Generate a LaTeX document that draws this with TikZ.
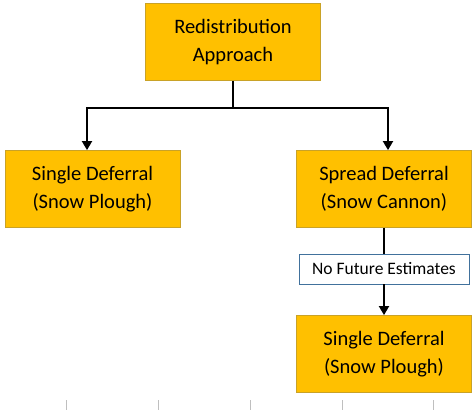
\documentclass[tikz,border=0pt]{standalone}
\usepackage{fontspec}
\setmainfont{Carlito}
\usetikzlibrary{positioning, arrows.meta}
\definecolor{boxfill}{HTML}{FFC000}
\definecolor{boxline}{HTML}{C9A227}
\definecolor{noteline}{HTML}{41719C}

\begin{document}
\begin{tikzpicture}
    [
        x=1pt, y=1pt, on grid,
        orange_box/.style={rectangle, draw=boxline, fill=boxfill, line width=0.8pt, minimum width=175pt, minimum height=77pt, align=center, font=\fontsize{20.5}{27.5}\selectfont},
        note_box/.style={rectangle, draw=noteline, fill=white, line width=0.9pt, minimum width=170pt, minimum height=30pt, font=\fontsize{17.5}{20}\selectfont},
        link/.style={line width=1.8pt, color=black},
    ]
        \useasboundingbox (0,0) rectangle (472,-410);
        \node[orange_box] (approach) at (233,-42) {Redistribution\\Approach} ;
        \node[orange_box] (single) [below left = 147pt and 140.5pt of approach] {Single Deferral\\(Snow Plough)} ;
        \node[orange_box] (spread) [below right = 147pt and 151pt of approach] {Spread Deferral\\(Snow Cannon)} ;
        \node[note_box] (nofuture) [below = 80pt of spread] {No Future Estimates} ;
        \node[orange_box] (single2) [below = 165pt of spread] {Single Deferral\\(Snow Plough)} ;
        \coordinate (split) at ([yshift=-27pt]approach.south) ;
        \draw[link] (approach.south) -- (split) ;
        \draw[link, -{Triangle[width=10pt, length=9pt]}] (split) -| ([xshift=-5.5pt]single.north) ;
        \draw[link, -{Triangle[width=10pt, length=9pt]}] (split) -| ([xshift=4pt]spread.north) ;
        \draw[link] (spread.south) -- (nofuture.north) ;
        \draw[link, -{Triangle[width=10pt, length=9pt]}] (nofuture.south) -- (single2.north) ;
        % sheet gridlines
        \foreach \gx in {66,158,250,342,433}
            \draw[black!25, line width=0.8pt] (\gx,-400) -- (\gx,-410) ;
    \end{tikzpicture}
\end{document}
